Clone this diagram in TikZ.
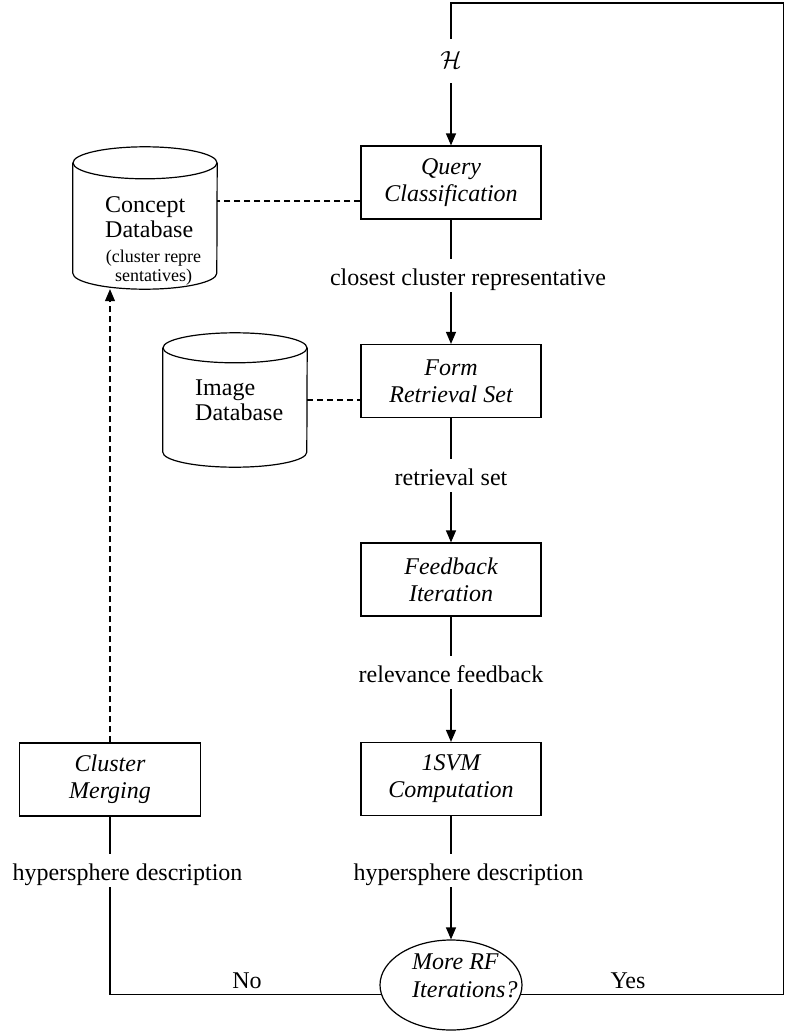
\documentclass[tikz,border=0pt]{standalone}
\usepackage{fontspec}
\setmainfont{Liberation Serif}
\usetikzlibrary{arrows.meta,shapes.geometric}

\tikzset{
  conn/.style={line width=1.2pt},
  arr/.style={conn, -{Triangle[length=12pt,width=10pt]}},
  dashline/.style={line width=1.1pt, dash pattern=on 6pt off 4pt},
  dasharr/.style={dashline, -{Triangle[length=12pt,width=10pt]}},
  procbox/.style={draw, line width=1.2pt, minimum width=180pt, minimum height=73pt,
    inner sep=0pt, align=center, font=\fontsize{24}{27}\selectfont\itshape},
  flowlabel/.style={inner xsep=3pt, inner ysep=0pt, text height=26pt, text depth=7pt,
    anchor=base, font=\fontsize{24}{26}\selectfont},
  plaintext/.style={inner sep=0pt, font=\fontsize{24}{25}\selectfont},
  dbbody/.style={minimum width=144pt, inner sep=0pt},
}

\begin{document}
\begin{tikzpicture}[x=1pt, y=-1pt]
\useasboundingbox (0,0) rectangle (785,1033);

% process boxes of the main column
\node[procbox] (query)    at (451,182.5) {Query\\Classification};
\node[procbox] (form)     at (451,381)   {Form\\Retrieval Set};
\node[procbox] (feedback) at (451,579.5) {Feedback\\Iteration};
\node[procbox] (svm)      at (451,779)   {1SVM\\Computation};
\node[procbox, minimum width=181pt] (merge) at (110,779.5) {Cluster\\Merging};

% decision
\node[draw, ellipse, line width=1.2pt, minimum width=142pt, minimum height=90pt,
      inner sep=0pt] (decide) at (451,985) {};
\node[plaintext, align=left, anchor=west, font=\fontsize{24}{28}\selectfont\itshape]
      (decidetext) at (412,976) {More RF\\Iterations?};

% databases (cylinders)
\node[dbbody, minimum height=142pt] (concept) at (145,218) {};
\draw[conn] ([yshift=-16pt]concept.north west) -- ([yshift=16pt]concept.south west)
  arc[start angle=180, end angle=360, x radius=72pt, y radius=16pt]
  -- ([yshift=-16pt]concept.north east);
\draw[conn] ([yshift=-16pt]concept.north) ellipse[x radius=72pt, y radius=16pt];
\node[plaintext, align=left, anchor=west] (concepttext) at (105,217.5) {Concept\\Database};
\node[plaintext, align=center, font=\fontsize{18}{19}\selectfont] (conceptnote)
  at (153.5,268) {(cluster repre\\sentatives)};

\node[dbbody, minimum height=134pt] (image) at (235,400) {};
\draw[conn] ([yshift=-15pt]image.north west) -- ([yshift=15pt]image.south west)
  arc[start angle=180, end angle=360, x radius=72pt, y radius=15pt]
  -- ([yshift=-15pt]image.north east);
\draw[conn] ([yshift=-15pt]image.north) ellipse[x radius=72pt, y radius=15pt];
\node[plaintext, align=left, anchor=west] (imagetext) at (195,400.5) {Image\\Database};

% edge labels
\node[flowlabel, text height=29pt, text depth=15pt] (hl) at (451,68) {$\mathcal{H}$};
\node[flowlabel] (l1) at (468,285)   {closest cluster representative};
\node[flowlabel] (l2) at (451,485)   {retrieval set};
\node[flowlabel] (l3) at (451,682)   {relevance feedback};
\node[flowlabel] (l4) at (468.5,880) {hypersphere description};
\node[flowlabel] (l5) at (127.5,880) {hypersphere description};
\node[plaintext, anchor=base] (no)  at (247,988) {No};
\node[plaintext, anchor=base] (yes) at (628,988) {Yes};

% loop corners
\coordinate (tr) at (783.5,3);
\coordinate (tl) at (451,3);

% main flow
\draw[arr]  (hl) -- (query);
\draw[conn] (query) -- (query.south |- l1.north);
\draw[arr]  (query.south |- l1.south) -- (form);
\draw[conn] (form) -- (l2);
\draw[arr]  (l2) -- (feedback);
\draw[conn] (feedback) -- (l3);
\draw[arr]  (l3) -- (svm);
\draw[conn] (svm) -- (svm.south |- l4.north);
\draw[arr]  (svm.south |- l4.south) -- (decide);

% "Yes" loop back to the query
\draw[conn] (decide.-8) -| (tr) -- (tl) -- (hl.north);

% "No" branch to cluster merging
\draw[conn] (merge.south |- l5.south) |- (decide.188);
\draw[conn] (merge) -- (merge.south |- l5.north);
\draw[dasharr] (merge) -- (merge.north |- concept.south);

% database links
\coordinate (qd) at ([yshift=-18.5pt]query.west);
\draw[dashline] (qd) -- (concept.east |- qd);
\draw[dashline] (image.east) -- (image.east -| form.west);
\end{tikzpicture}
\end{document}
